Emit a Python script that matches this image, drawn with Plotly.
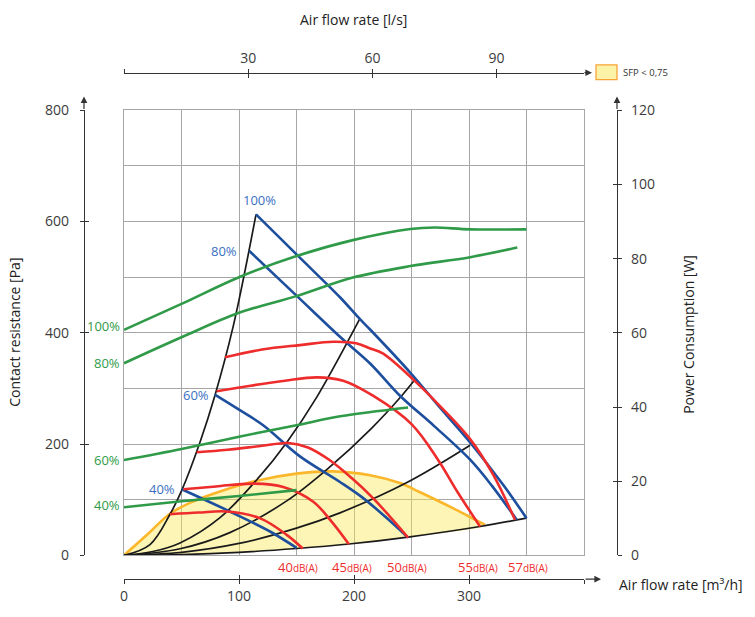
import plotly.graph_objects as go

# ---------------- data (flow in m3/h, pressure in Pa, power in W) ----------------
# system curves (black)
sys1_x = [0, 22.6, 40, 50.2, 66, 79, 95, 114.8]
sys1_y = [0, 19.5, 74, 117, 203, 287, 412, 613]
sys2_x = [0, 25, 48.7, 83.5, 118, 141.5, 167.5, 205]
sys2_y = [0, 7, 22.5, 68, 142, 203, 284, 425]
sys3_x = [0, 48.7, 92, 141.5, 179, 215, 241.5, 253]
sys3_y = [0, 12, 41, 98, 159, 228, 287, 316]
sys4_x = [0, 50, 100, 150, 187.8, 246, 301]
sys4_y = [0, 5.5, 21.5, 49, 76.5, 131, 198]
sys5_x = [0, 50, 100, 150, 195.6, 247, 309.6, 350]
sys5_y = [0, 1.4, 5.5, 12.4, 20.5, 33, 52, 67]

# fan speed curves (blue)
fan100_x = [114.8, 150, 187.8, 205, 214, 250, 275, 301, 330, 350]
fan100_y = [613, 541, 464, 425, 406, 326, 265, 203, 126, 67]
fan80_x = [109, 150, 187.8, 214, 240, 270, 301, 320, 341.5]
fan80_y = [547, 467, 393, 345, 287, 232, 172, 125, 64]
fan60_x = [79, 100, 121, 153, 187.8, 208, 228, 247]
fan60_y = [289, 262, 234, 178, 132, 103, 68, 32]
fan40_x = [50.2, 92, 127, 150]
fan40_y = [119, 79, 43, 13.6]
fan_labels = ["100%", "80%", "60%", "40%"]

# sound level curves (red)
snd57_x = [87.8, 120, 153, 182, 202.6, 214, 225, 251.6, 275, 301, 321, 340]
snd57_y = [356, 370, 378, 384, 381, 372, 363, 316, 268, 209, 145, 64]
snd55_x = [80.6, 110, 140, 167.5, 190.6, 216.5, 250, 273, 290, 309.6]
snd55_y = [295, 305, 314, 320, 314, 287, 236, 172, 114, 52]
snd50_x = [63.2, 90, 120, 142.9, 160, 179, 198, 216.5, 232, 247]
snd50_y = [185.5, 190, 197, 202, 194, 171, 139, 103, 68, 32]
snd45_x = [51.6, 80, 112.5, 138.5, 164.6, 180, 195.6]
snd45_y = [119, 124, 129, 123, 96.5, 62, 20]
snd40_x = [40, 65, 89, 118, 141.5, 155.4]
snd40_y = [74, 77, 79, 67, 37, 12.4]
snd_labels = ["40", "45", "50", "55", "57"]
snd_label_x = [150.9, 198, 246, 307.8, 351.3]

# SFP < 0,75 region upper border (orange)
sfp_x = [0, 20, 40, 60, 77.7, 112.5, 150, 182, 214, 240, 257, 286, 300, 314]
sfp_y = [0, 37, 75, 97, 111, 133, 147, 151, 144, 130, 114, 85, 70, 55]

# power consumption curves (green, W)
pwr100_x = [0, 50, 100, 150, 199, 249, 270, 301, 350]
pwr100_w = [60.8, 67.8, 75, 80.7, 85, 88, 88.4, 87.9, 87.9]
pwr80_x = [0, 50, 100, 150, 199, 249, 301, 342]
pwr80_w = [51.8, 58.8, 65.4, 69.9, 74.9, 78, 80.4, 83]
pwr60_x = [0, 50, 100, 150, 188, 247]
pwr60_w = [25.7, 28.7, 32, 35.1, 37.5, 39.9]
pwr40_x = [0, 50, 100, 150]
pwr40_w = [13, 14.6, 16, 17.6]
pwr_labels = ["100%", "80%", "60%", "40%"]

# axes ticks
pa_ticks = [0, 200, 400, 600, 800]
w_ticks = [0, 20, 40, 60, 80, 100, 120]
m3h_ticks = [0, 100, 200, 300, 400]
m3h_text = ["0", "100", "200", "300", ""]
ls_ticks = [0, 30, 60, 90]
ls_text = ["", "30", "60", "90"]
LS_PER_M3H = 1 / 3.6

# ---------------- layout geometry ----------------
W, H = 755, 617
L, R, T, B = 60, 640, 45, 600


def px(p):
    return (p - L) / (R - L)


def py(p):
    return (B - p) / (B - T)


FONT = "Open Sans, Noto Sans, sans-serif"
BLUE = "#1d4f9e"
BLUE_T = "#3a70c2"
RED = "#ee2c2c"
GREEN = "#2f9a48"
ORANGE = "#fbb62a"
FILL = "rgba(249,231,80,0.42)"
AX = "#333333"
NONE = "rgba(0,0,0,0)"
GRID = "#a6a6a6"
TXT = "#3c3c3c"

fig = go.Figure()

# SFP region
fig.add_trace(go.Scatter(
    x=sfp_x + sys5_x[::-1][2:], y=sfp_y + sys5_y[::-1][2:],
    fill="toself", fillcolor=FILL, mode="lines", line=dict(width=0),
    line_shape="spline", hoverinfo="skip", showlegend=False))
fig.add_trace(go.Scatter(x=sfp_x, y=sfp_y, mode="lines", line=dict(color=ORANGE, width=2.6),
                         line_shape="spline", showlegend=False, hoverinfo="skip"))

for xs, ys in [(sys1_x, sys1_y), (sys2_x, sys2_y), (sys3_x, sys3_y), (sys4_x, sys4_y), (sys5_x, sys5_y)]:
    fig.add_trace(go.Scatter(x=xs, y=ys, mode="lines", line=dict(color="#1a1a1a", width=1.7),
                             line_shape="spline", showlegend=False, hoverinfo="skip"))

for xs, ws in [(pwr100_x, pwr100_w), (pwr80_x, pwr80_w), (pwr60_x, pwr60_w), (pwr40_x, pwr40_w)]:
    fig.add_trace(go.Scatter(x=xs, y=ws, yaxis="y3", mode="lines", line=dict(color=GREEN, width=2.6),
                             line_shape="spline", showlegend=False, hoverinfo="skip"))

fans = [(fan100_x, fan100_y), (fan80_x, fan80_y), (fan60_x, fan60_y), (fan40_x, fan40_y)]
for xs, ys in fans:
    fig.add_trace(go.Scatter(x=xs, y=ys, mode="lines", line=dict(color=BLUE, width=2.6),
                             line_shape="spline", showlegend=False, hoverinfo="skip"))

snds = [(snd40_x, snd40_y), (snd45_x, snd45_y), (snd50_x, snd50_y), (snd55_x, snd55_y), (snd57_x, snd57_y)]
for xs, ys in snds:
    fig.add_trace(go.Scatter(x=xs, y=ys, mode="lines", line=dict(color=RED, width=2.6),
                             line_shape="spline", showlegend=False, hoverinfo="skip"))

# dummy traces so that the decorative axes exist
for xa, ya in [("x2", "y"), ("x3", "y"), ("x4", "y"), ("x5", "y"),
               ("x", "y2"), ("x", "y4"), ("x", "y5"), ("x", "y6"), ("x", "y7")]:
    fig.add_trace(go.Scatter(x=[None], y=[None], xaxis=xa, yaxis=ya, showlegend=False, hoverinfo="skip"))

xdom = [px(124), px(584)]
ydom = [py(561), py(111)]
tickfont = dict(family=FONT, size=14, color=TXT)


def deco(**kw):
    base = dict(showgrid=False, zeroline=False, showline=False, showticklabels=False)
    base.update(kw)
    return base


layout = dict(
    width=W, height=H, margin=dict(l=L, r=W - R, t=T, b=H - B),
    paper_bgcolor="white", plot_bgcolor="white", showlegend=False,
    xaxis=dict(domain=xdom, range=[0, 400], dtick=50, showgrid=True, gridcolor=GRID, gridwidth=1.3,
               showticklabels=False, ticks="", zeroline=False, showline=True, mirror=True,
               linecolor=GRID, linewidth=1.3),
    yaxis=dict(domain=ydom, range=[0, 800], dtick=100, showgrid=True, gridcolor=GRID, gridwidth=1.3,
               showticklabels=False, ticks="", zeroline=False, showline=True, mirror=True,
               linecolor=GRID, linewidth=1.3),
    # bottom m3/h axis
    xaxis2=dict(overlaying="x", anchor="free", position=py(585), side="bottom", range=[0, 400],
                tickvals=m3h_ticks, ticktext=m3h_text, ticks="outside", ticklen=4, tickcolor=AX,
                showline=True, linecolor=AX, linewidth=1.2, showgrid=False, zeroline=False, tickfont=tickfont),
    xaxis4=deco(overlaying="x", anchor="free", position=py(585), side="bottom", range=[0, 400],
                tickvals=m3h_ticks, ticks="inside", ticklen=4, tickcolor=AX),
    # top l/s axis
    xaxis3=dict(overlaying="x", anchor="free", position=py(73), side="top", range=[0, 400 * LS_PER_M3H],
                tickvals=ls_ticks, ticktext=ls_text, ticks="outside", ticklen=4, tickcolor=AX,
                showline=True, linecolor=AX, linewidth=1.2, showgrid=False, zeroline=False, tickfont=tickfont),
    xaxis5=deco(overlaying="x", anchor="free", position=py(73), side="top", range=[0, 400 * LS_PER_M3H],
                tickvals=ls_ticks, ticks="inside", ticklen=4, tickcolor=AX),
    # left Pa axis (labels pushed out by long invisible ticks, visible ticks drawn separately)
    yaxis2=dict(overlaying="y", anchor="free", position=px(84), side="left", range=[0, 800],
                tickvals=pa_ticks, ticks="outside", ticklen=12, tickcolor=NONE,
                showline=True, linecolor=AX, linewidth=1.2, showgrid=False, zeroline=False, tickfont=tickfont),
    yaxis4=deco(overlaying="y", anchor="free", position=px(84), side="left", range=[0, 800],
                tickvals=pa_ticks, ticks="inside", ticklen=4, tickcolor=AX),
    yaxis6=deco(overlaying="y", anchor="free", position=px(84), side="left", range=[0, 800],
                tickvals=pa_ticks, ticks="outside", ticklen=4, tickcolor=AX),
    # right W axis
    yaxis3=dict(overlaying="y", anchor="free", position=px(617), side="right", range=[0, 120],
                tickvals=w_ticks, ticks="outside", ticklen=10, tickcolor=NONE,
                showline=True, linecolor=AX, linewidth=1.2, showgrid=False, zeroline=False, tickfont=tickfont),
    yaxis5=deco(overlaying="y", anchor="free", position=px(617), side="right", range=[0, 120],
                tickvals=w_ticks, ticks="inside", ticklen=4, tickcolor=AX),
    yaxis7=deco(overlaying="y", anchor="free", position=px(617), side="right", range=[0, 120],
                tickvals=w_ticks, ticks="outside", ticklen=4, tickcolor=AX),
)
fig.update_layout(**layout)

ann = []
# axis arrows
for (hx, hy, ax_, ay_) in [(592, 73, -9, 0), (601, 585, -17, 0), (84, 97, 0, 14), (617, 97, 0, 14)]:
    ann.append(dict(x=px(hx), y=py(hy), xref="paper", yref="paper", text="", showarrow=True,
                    ax=ax_, ay=ay_, arrowhead=2, arrowsize=1.1, arrowwidth=1.2, arrowcolor=AX))

titlefont = dict(family=FONT, size=14, color="#222222")
C = dict(xanchor="center", yanchor="middle", showarrow=False, xref="paper", yref="paper")
ann += [
    dict(x=px(353), y=py(19), text="Air flow rate [l/s]", font=titlefont, **C),
    dict(x=px(15), y=py(336), text="Contact resistance [Pa]", textangle=-90, font=titlefont, **C),
    dict(x=px(689), y=py(337), text="Power Consumption [W]", textangle=-90, font=titlefont, **C),
    dict(x=px(617), y=py(590), xref="paper", yref="paper", text="Air flow rate [m³/h]",
         showarrow=False, xanchor="left", yanchor="middle", font=titlefont),
    dict(x=px(621), y=py(73), xref="paper", yref="paper", text="SFP < 0,75",
         showarrow=False, xanchor="left", yanchor="middle", font=dict(family=FONT, size=9.5, color="#333333")),
]

# fan labels (blue) placed at the start of each fan curve
ann.append(dict(x=fan100_x[0], y=fan100_y[0], text=fan_labels[0], showarrow=False, yanchor="bottom",
                xanchor="center", xshift=3, yshift=3, font=dict(family=FONT, size=13, color=BLUE_T)))
for (xs, ys), lab, sh in zip(fans[1:], fan_labels[1:], [-10, -4, -5]):
    ann.append(dict(x=xs[0], y=ys[0], text=lab, showarrow=False, xanchor="right", yanchor="middle",
                    xshift=sh, font=dict(family=FONT, size=13, color=BLUE_T)))

# power labels (green) at the left edge
for ws, lab, ysh in zip([pwr100_w, pwr80_w, pwr60_w, pwr40_w], pwr_labels, [4, 0, 0, 2]):
    ann.append(dict(x=0, y=ws[0], yref="y3", text=lab, showarrow=False, xanchor="right", yanchor="middle",
                    xshift=-2, yshift=ysh, font=dict(family=FONT, size=13, color=GREEN)))

# sound labels (red) below the grid
for lab, lx in zip(snd_labels, snd_label_x):
    ann.append(dict(x=lx, y=py(573), yref="paper", xanchor="center", yanchor="middle",
                    text=lab + "<span style='font-size:10px'>dB(A)</span>",
                    showarrow=False, font=dict(family=FONT, size=13, color=RED)))

fig.update_layout(annotations=ann)

# SFP legend swatch
fig.add_shape(type="rect", xref="paper", yref="paper", x0=px(596), x1=px(617), y0=py(80), y1=py(65),
              fillcolor="#fdf3a8", line=dict(color="#f7a43a", width=1.3))

fig.write_html(
    "out.html",
    config={"displayModeBar": False},
    post_script=("document.body.style.margin='0';"
                 "var gd=document.querySelector('.plotly-graph-div');"
                 "gd.style.position='fixed';gd.style.top='0px';gd.style.left='0px';"),
)
